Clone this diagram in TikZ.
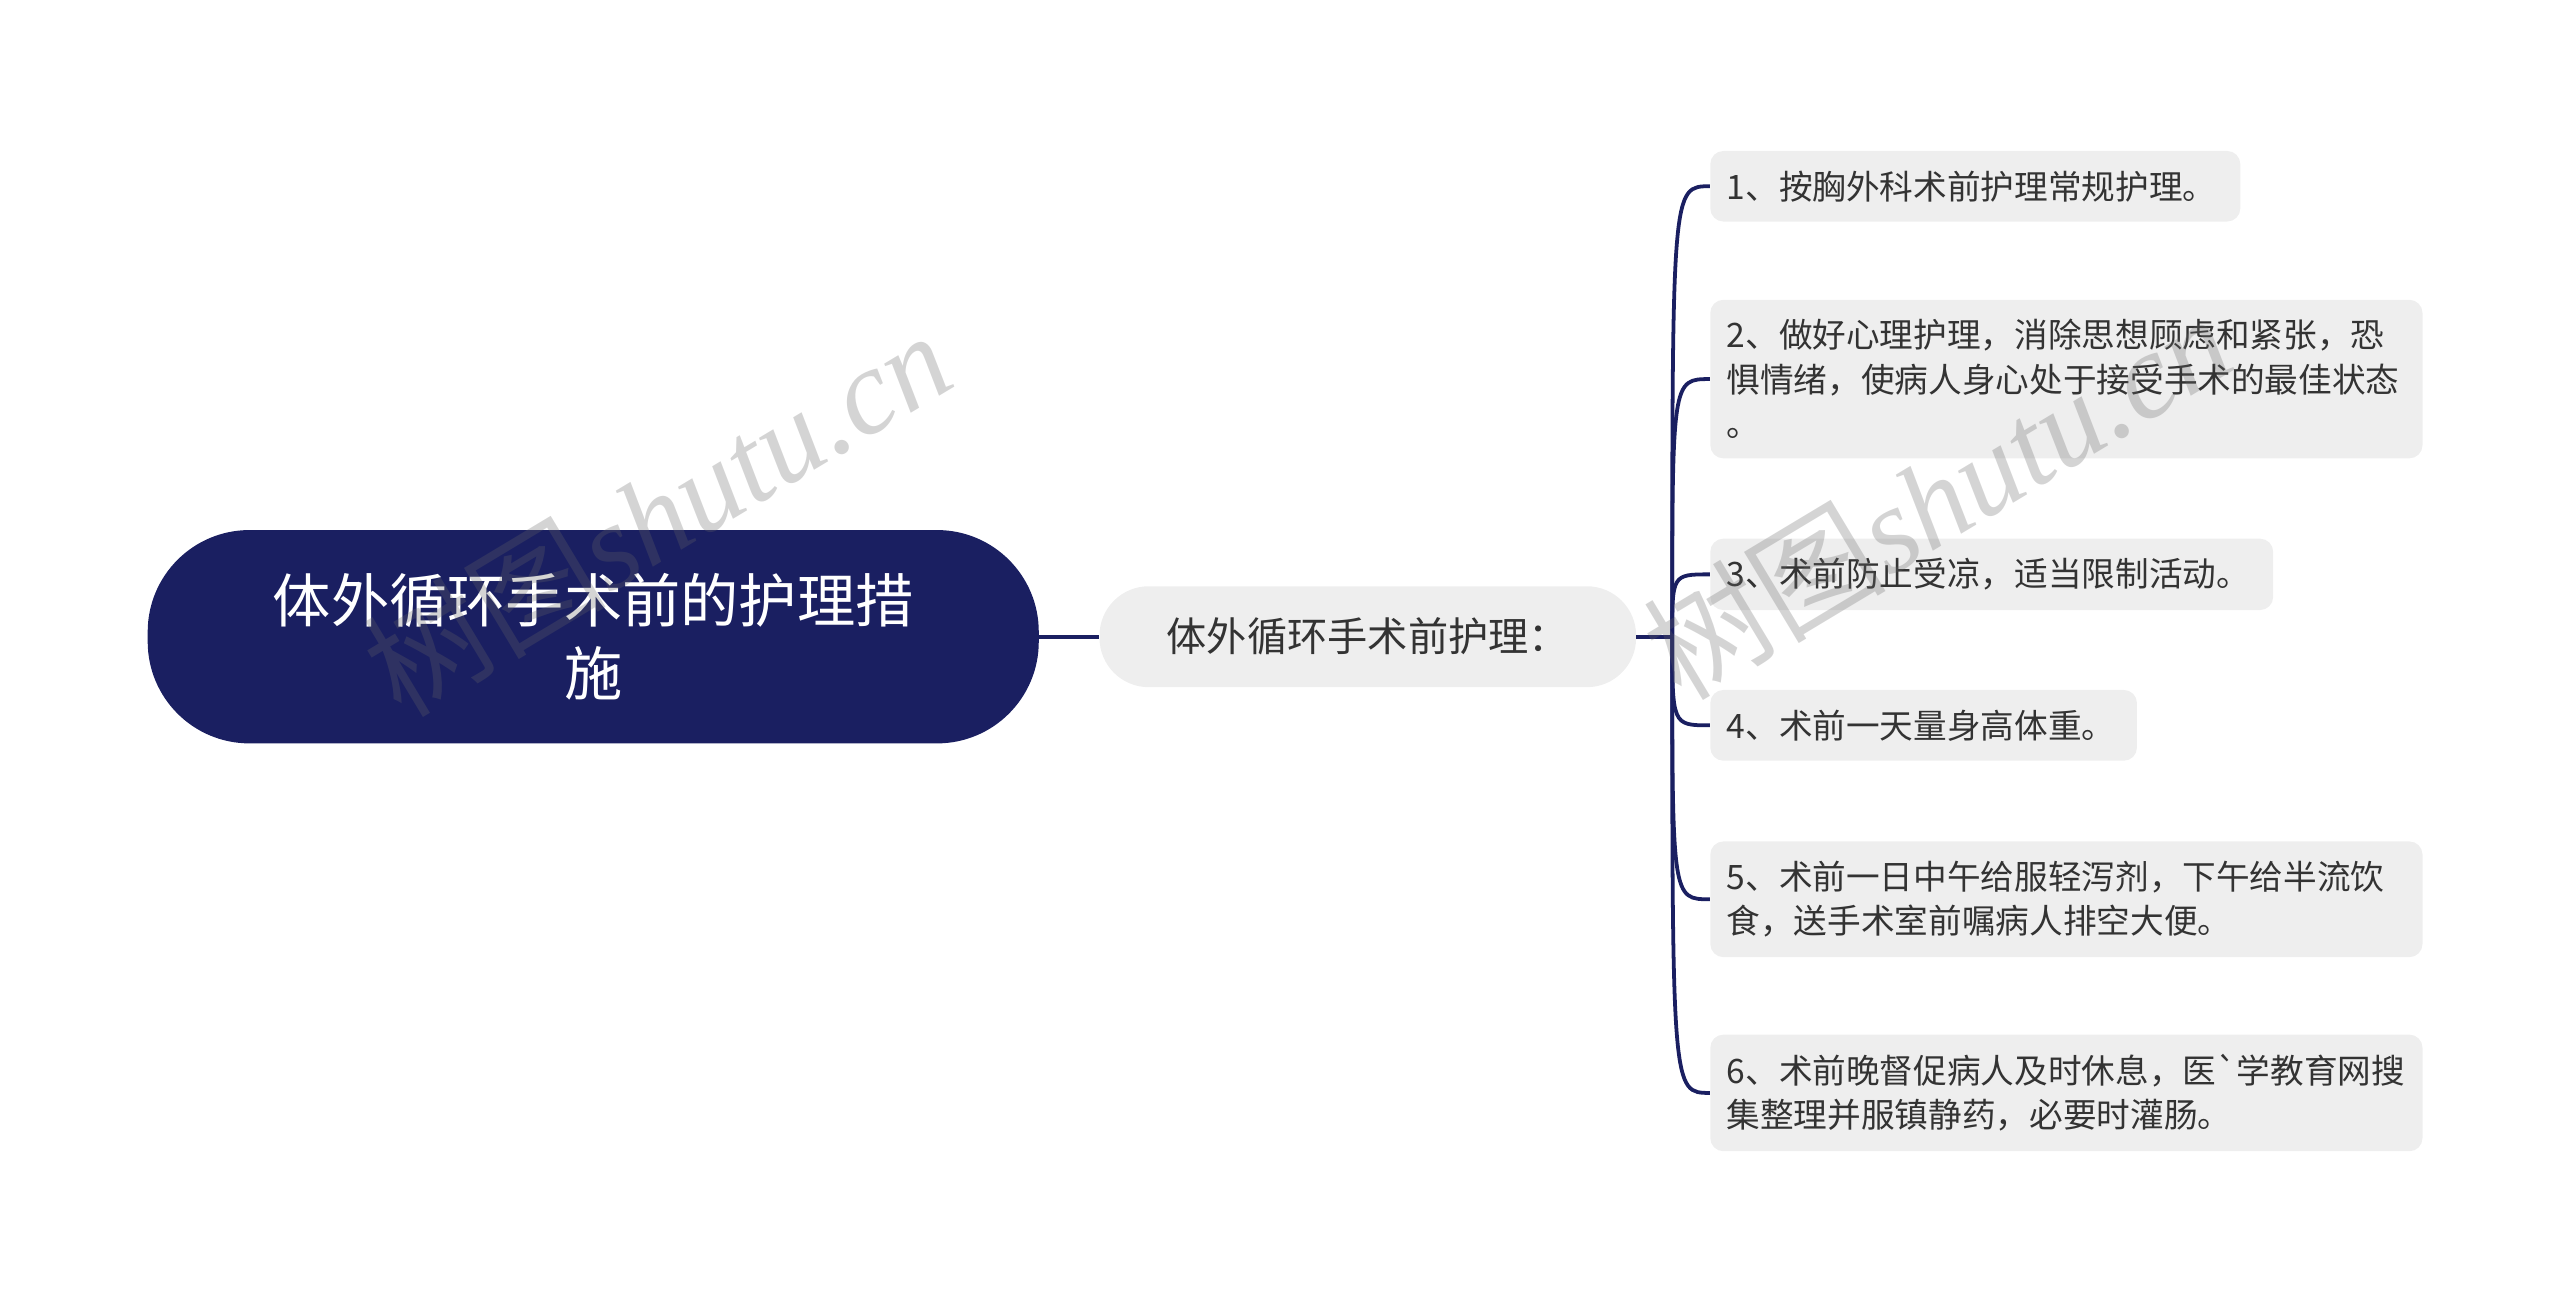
\documentclass[tikz,border=0pt]{standalone}
\usepackage{fontspec}
\newfontfamily\cjk{Noto Sans CJK SC}[Ligatures=TeXOff]
\newfontfamily\wmfont{Liberation Serif}
\definecolor{navy}{HTML}{1A1F61}
\definecolor{leafgray}{HTML}{EEEEEE}
\definecolor{ink}{HTML}{333333}

\begin{document}
\begin{tikzpicture}
[every node/.style={inner sep=0pt},
 rootbox/.style={rectangle, rounded corners=62pt, fill=navy, minimum width=543pt, minimum height=130pt, text=white, align=center, font=\cjk\fontsize{35.5}{45}\selectfont},
 subbox/.style={rectangle, rounded corners=30pt, fill=leafgray, minimum width=327pt, minimum height=61.5pt, text=ink, font=\cjk\fontsize{24.5}{30}\selectfont},
 leafbox/.style={rectangle, rounded corners=8pt, fill=leafgray, anchor=west, inner xsep=10pt, inner ysep=12pt, align=left, text=ink, font=\cjk\fontsize{20.5}{27}\selectfont},
 link/.style={line width=2.3pt, color=navy},
 watermark/.style={rotate=31, text=black!60, opacity=0.28, font=\fontsize{74}{74}\selectfont}]
\useasboundingbox (0pt, 0pt) rectangle (1560pt, -789.1pt);
\node (root) [rootbox] at (361.5pt, -388.0pt) {体外循环手术前的护理措\\施};
\node (sub) [subbox] at (833.5pt, -388.0pt) {体外循环手术前护理：};
\node (l1) [leafbox, text width=303pt] at (1042.0pt, -113.5pt) {1、按胸外科术前护理常规护理。};
\node (l2) [leafbox, text width=414pt] at (1042.0pt, -231.0pt) {2、做好心理护理，消除思想顾虑和紧张，恐\\惧情绪，使病人身心处于接受手术的最佳状态\\。};
\node (l3) [leafbox, text width=323pt] at (1042.0pt, -350.0pt) {3、术前防止受凉，适当限制活动。};
\node (l4) [leafbox, text width=240pt] at (1042.0pt, -442.0pt) {4、术前一天量身高体重。};
\node (l5) [leafbox, text width=414pt] at (1042.0pt, -548.0pt) {5、术前一日中午给服轻泻剂，下午给半流饮\\食，送手术室前嘱病人排空大便。};
\node (l6) [leafbox, text width=414pt] at (1042.0pt, -666.0pt) {6、术前晚督促病人及时休息，医`学教育网搜\\集整理并服镇静药，必要时灌肠。};
\coordinate (fork) at (1019.0pt, -388.0pt);
\draw [link] (root) to (sub);
\draw [link] (sub) to (fork);
\draw [link] (fork) .. controls (fork |- l1.west) and (fork |- l1.west) .. (l1.west);
\draw [link] (fork) .. controls (fork |- l2.west) and (fork |- l2.west) .. (l2.west);
\draw [link] (fork) .. controls (fork |- l3.west) and (fork |- l3.west) .. (l3.west);
\draw [link] (fork) .. controls (fork |- l4.west) and (fork |- l4.west) .. (l4.west);
\draw [link] (fork) .. controls (fork |- l5.west) and (fork |- l5.west) .. (l5.west);
\draw [link] (fork) .. controls (fork |- l6.west) and (fork |- l6.west) .. (l6.west);
% watermarks
\node (mark1) [watermark] at (400.0pt, -312.0pt) {\cjk 树图\wmfont\itshape shutu.cn};
\node (mark2) [watermark] at (1180.0pt, -302.0pt) {\cjk 树图\wmfont\itshape shutu.cn};
\end{tikzpicture}
\end{document}
